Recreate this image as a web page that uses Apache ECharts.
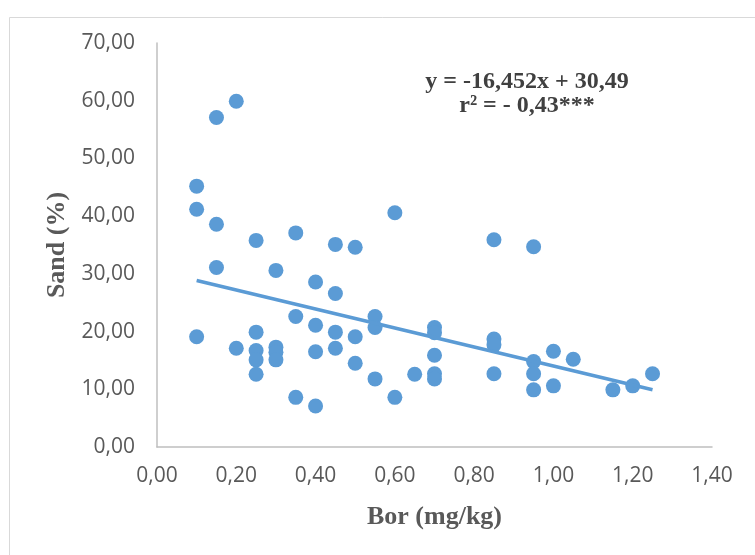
<!DOCTYPE html>
<html>
<head>
<meta charset="utf-8">
<script src="https://cdn.jsdelivr.net/npm/echarts@6/dist/echarts.min.js"></script>
<style>html,body{margin:0;padding:0;background:#fff;}#c{width:755px;height:555px;}</style>
</head>
<body>
<div id="c"></div>
<script>
const borValues = [0.10,0.10,0.10,0.15,0.15,0.15,0.20,0.20,
  0.25,0.25,0.25,0.25,0.25,0.30,0.30,0.30,0.30,
  0.35,0.35,0.35,0.40,0.40,0.40,0.40,0.45,0.45,0.45,0.45,
  0.50,0.50,0.50,0.55,0.55,0.55,0.60,0.60,0.65,
  0.70,0.70,0.70,0.70,0.70,0.85,0.85,0.85,0.85,
  0.95,0.95,0.95,0.95,1.00,1.00,1.05,1.15,1.20,1.25];
const sandValues = [45.2,41.2,19.1,57.1,38.6,31.1,59.9,17.1,
  35.8,19.9,16.7,15.1,12.6,30.6,17.3,16.4,15.1,
  37.1,22.6,8.6,28.6,21.1,16.5,7.1,35.1,26.6,19.9,17.1,
  34.6,19.1,14.5,22.6,20.7,11.8,40.6,8.6,12.6,
  20.7,19.8,15.9,12.7,11.8,35.9,18.7,17.7,12.7,
  34.7,14.8,12.7,9.9,16.6,10.6,15.2,9.9,10.6,12.7];
const slope = -16.452, intercept = 30.49;
const trendX = [0.10, 1.25];
const xTicks = ['0,00','0,20','0,40','0,60','0,80','1,00','1,20','1,40'];
const yTicks = ['0,00','10,00','20,00','30,00','40,00','50,00','60,00','70,00'];
const eqLine1 = 'y = -16,452x + 30,49';
const eqLine2 = 'r² = - 0,43***';

const points = borValues.map((x, i) => [x, sandValues[i]]);
const trend = trendX.map(x => [x, slope * x + intercept]);
const fmt = v => v.toFixed(2).replace('.', ',');

const chart = echarts.init(document.getElementById('c'), null, {renderer: 'canvas'});
chart.setOption({
  animation: false,
  backgroundColor: '#fff',
  grid: {left: 157, right: 43, top: 43, bottom: 108},
  xAxis: {
    type: 'value', min: 0, max: 1.4, interval: 0.2,
    axisLine: {show: true, lineStyle: {color: '#bfbfbf', width: 1.5}},
    axisTick: {show: false},
    splitLine: {show: false},
    axisLabel: {color: '#595959', fontFamily: 'Open Sans', fontSize: 21, margin: 19,
      formatter: v => xTicks[Math.round(v / 0.2)] || fmt(v)},
    name: 'Bor (mg/kg)', nameLocation: 'middle', nameGap: 57,
    nameTextStyle: {color: '#595959', fontFamily: 'Liberation Serif', fontWeight: 'bold', fontSize: 26}
  },
  yAxis: {
    type: 'value', min: 0, max: 70, interval: 10,
    axisLine: {show: true, lineStyle: {color: '#bfbfbf', width: 1.5}},
    axisTick: {show: false},
    splitLine: {show: false},
    axisLabel: {color: '#595959', fontFamily: 'Open Sans', fontSize: 21, margin: 22,
      formatter: v => yTicks[Math.round(v / 10)] || fmt(v)},
    name: 'Sand (%)', nameLocation: 'middle', nameGap: 82, nameRotate: 90,
    nameTextStyle: {color: '#595959', fontFamily: 'Liberation Serif', fontWeight: 'bold', fontSize: 26}
  },
  graphic: [
    {type: 'rect', shape: {x: 9.5, y: 17.5, width: 800, height: 600}, silent: true, z: -10,
      style: {fill: 'none', stroke: '#d9d9d9', lineWidth: 1}},
    {type: 'text', position: [527, 82], style: {text: eqLine1, x: 0, y: 0, align: 'center', verticalAlign: 'middle',
      fill: '#404040', font: 'bold 24px "Liberation Serif"'}},
    {type: 'text', position: [527, 106], style: {text: eqLine2, x: 0, y: 0, align: 'center', verticalAlign: 'middle',
      fill: '#404040', font: 'bold 24px "Liberation Serif"'}}
  ],
  series: [
    {type: 'scatter', data: points, symbolSize: 15, z: 2,
      itemStyle: {color: '#5B9BD5', opacity: 1}},
    {type: 'line', data: trend, symbol: 'none', z: 3,
      lineStyle: {color: '#5B9BD5', width: 3.5}}
  ]
});
</script>
</body>
</html>
